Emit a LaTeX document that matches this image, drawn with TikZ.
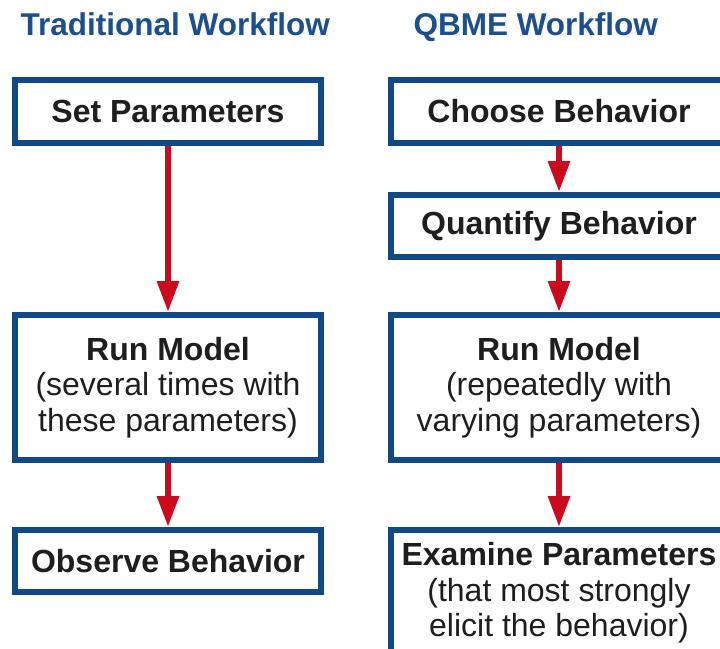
\documentclass[tikz,border=0pt]{standalone}
\usepackage{fontspec}
\setmainfont{Liberation Sans}
\usepackage{xcolor}
\usetikzlibrary{positioning}
\usetikzlibrary{shapes,arrows.meta}

\definecolor{titleblue}{HTML}{1C4F8E}
\definecolor{boxblue}{HTML}{114886}
\definecolor{arrowred}{HTML}{CC0A1E}
\definecolor{textgray}{HTML}{1E1E1E}

\tikzset{
  stepbox/.style={rectangle, draw=boxblue, line width=6pt, fill=white,
    inner sep=0pt, align=center, text=textgray,
    font=\fontsize{32}{35.5}\selectfont},
  leftbox/.style={stepbox, minimum width=306pt},
  rightbox/.style={stepbox, minimum width=336pt},
  heading/.style={anchor=base west, text=titleblue,
    font=\fontsize{31.5}{36}\selectfont\bfseries},
  flow/.style={draw=arrowred, line width=6pt,
    -{Triangle[length=31pt,width=21pt]}}
}

\begin{document}
\begin{tikzpicture}[x=1pt,y=-1pt]
  \useasboundingbox (0,0) rectangle (720,648);
  \clip (0,0) rectangle (720,648);
  \node(trad) [heading] at (17,35) {Traditional Workflow};
  \node(qbme) [heading] at (410,35) {QBME Workflow};
  % traditional column
  \node(set) [leftbox, minimum height=63pt] at (168,111.5) {\textbf{Set Parameters}};
  \node(run) [leftbox, minimum height=145pt, below=166pt of set]
    {\textbf{Run Model}\\(several times with\\these parameters)};
  \node(observe) [leftbox, minimum height=62pt, below=64pt of run] {\textbf{Observe Behavior}};
  % qbme column
  \node(choose) [rightbox, minimum height=63pt] at (559,111.5) {\textbf{Choose Behavior}};
  \node(quantify) [rightbox, minimum height=62pt, below=46pt of choose] {\textbf{Quantify Behavior}};
  \node(runq) [rightbox, minimum height=145pt, below=52pt of quantify]
    {\textbf{Run Model}\\(repeatedly with\\varying parameters)};
  \node(examine) [rightbox, minimum height=126pt, below=64pt of runq]
    {\textbf{Examine Parameters}\\(that most strongly\\elicit the behavior)};
  \draw[flow] (set) -- (run);
  \draw[flow] (run) -- (observe);
  \draw[flow] (choose) -- (quantify);
  \draw[flow] (quantify) -- (runq);
  \draw[flow] (runq) -- (examine);
\end{tikzpicture}
\end{document}
